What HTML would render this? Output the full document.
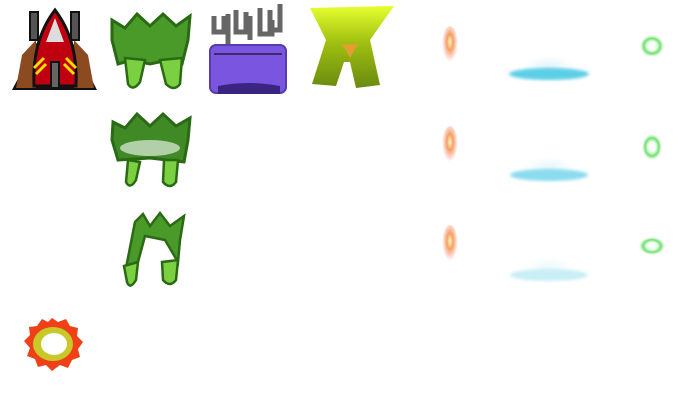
<!DOCTYPE html>
<html><head><meta charset="utf-8"><style>
html,body{margin:0;padding:0;background:#fff;width:700px;height:400px;overflow:hidden}
</style></head><body>
<svg width="700" height="400" viewBox="0 0 700 400" xmlns="http://www.w3.org/2000/svg">
<defs>
<filter id="blur"><feGaussianBlur stdDeviation="1.5"/></filter>
<filter id="blur3"><feGaussianBlur stdDeviation="3"/></filter>
<radialGradient id="fire" cx="50%" cy="40%" r="50%"><stop offset="0" stop-color="#fff6c0"/><stop offset="0.4" stop-color="#f5a060"/><stop offset="1" stop-color="#f8a0a0" stop-opacity="0"/></radialGradient>
<radialGradient id="orb" cx="50%" cy="50%" r="50%"><stop offset="0" stop-color="#fff"/><stop offset="0.4" stop-color="#f0fff0"/><stop offset="0.7" stop-color="#6ee06e"/><stop offset="1" stop-color="#b0f0b0" stop-opacity="0"/></radialGradient>
<radialGradient id="dome" cx="50%" cy="70%" r="50%"><stop offset="0" stop-color="#d4eef8"/><stop offset="1" stop-color="#e0f4fa" stop-opacity="0"/></radialGradient>
<linearGradient id="y4" x1="0" y1="0" x2="0" y2="1"><stop offset="0" stop-color="#e6ff30"/><stop offset="0.45" stop-color="#9fbf10"/><stop offset="1" stop-color="#6a8a10"/></linearGradient>
</defs>

<g>
<polygon points="55,8 97,90 12,90" fill="#111"/>
<polygon points="22,55 36,40 36,88 16,88" fill="#8b4a20"/>
<polygon points="88,55 74,40 74,88 94,88" fill="#8b4a20"/>
<rect x="30" y="12" width="8" height="28" fill="#555" stroke="#111" stroke-width="2"/>
<rect x="71" y="12" width="8" height="28" fill="#555" stroke="#111" stroke-width="2"/>
<path d="M55,10 Q78,40 76,86 L34,86 Q32,40 55,10Z" fill="#c00010" stroke="#111" stroke-width="3"/>
<polygon points="55,18 64,42 46,42" fill="#ddd"/>
<path d="M34,68 L44,58 M36,74 L46,64 M76,68 L66,58 M74,74 L64,64" stroke="#f5e000" stroke-width="3"/>
<rect x="51" y="62" width="8" height="26" fill="#666" stroke="#111" stroke-width="2"/>
</g>

<g>
<path d="M112,20 L125,28 L137,14 L150,26 L163,14 L176,26 L190,16 L188,40 L182,64 L168,60 L150,64 L132,60 L118,64 L112,40Z" fill="#4a9a2a" stroke="#2a6a14" stroke-width="3"/>
<path d="M125,58 L145,60 L140,82 Q133,92 128,84Z" fill="#7ad040" stroke="#2a6a14" stroke-width="2.5"/>
<path d="M160,60 L182,58 L180,84 Q174,92 166,84Z" fill="#7ad040" stroke="#2a6a14" stroke-width="2.5"/>
</g>

<g>
<path d="M214,16 v16 h10 v-16 M228,14 v30 M236,10 v22 h10 v-20 M250,16 v24 M260,8 v26 h12 v-14 M270,10 v20 h10 v-26" stroke="#666" stroke-width="5" fill="none"/>
<rect x="210" y="45" width="76" height="48" rx="6" fill="#7a55e0" stroke="#5a3ab0" stroke-width="2"/>
<line x1="214" y1="54" x2="282" y2="54" stroke="#3a2a70" stroke-width="2"/>
<path d="M218,86 Q248,80 280,86 L280,94 L218,94Z" fill="#3a2580"/>
</g>

<g>
<path d="M310,8 L394,6 L370,40 L380,85 L356,88 L350,62 L344,62 L336,86 L312,84 L326,40Z" fill="url(#y4)"/>
<polygon points="342,44 358,44 350,58" fill="#e0a030"/>
</g>

<g>
<path d="M113,122 L125,128 L137,114 L150,126 L163,114 L176,126 L190,118 L188,140 L184,162 L150,158 L118,160 L112,140Z" fill="#3f8a24" stroke="#2a6a14" stroke-width="3"/>
<ellipse cx="150" cy="148" rx="30" ry="8" fill="#fff" opacity="0.6"/>
<path d="M128,160 L140,162 L136,180 Q130,190 126,182Z" fill="#7ad040" stroke="#2a6a14" stroke-width="2.5"/>
<path d="M164,160 L178,160 L176,182 Q170,190 163,182Z" fill="#7ad040" stroke="#2a6a14" stroke-width="2.5"/>
</g>

<g>
<path d="M135,222 L143,214 L150,226 L160,213 L170,226 L184,216 L180,240 L178,262 L165,240 L145,236 L138,262 L126,268Z" fill="#4a9a2a" stroke="#2a6a14" stroke-width="2.5"/>
<path d="M124,266 L138,262 L136,280 Q130,290 127,282Z" fill="#7ad040" stroke="#2a6a14" stroke-width="2.5"/>
<path d="M162,262 L178,260 L176,280 Q170,288 163,280Z" fill="#7ad040" stroke="#2a6a14" stroke-width="2.5"/>
</g>

<g>
<ellipse cx="450" cy="46" rx="8" ry="20" fill="url(#fire)"/>
<ellipse cx="450" cy="146" rx="8" ry="20" fill="url(#fire)"/>
<ellipse cx="450" cy="245" rx="8" ry="20" fill="url(#fire)"/>
</g>

<g>
<ellipse cx="549" cy="64" rx="28" ry="14" fill="url(#dome)"/>
<ellipse cx="549" cy="74" rx="40" ry="6" fill="#5ccfe6" filter="url(#blur)"/>
<ellipse cx="549" cy="165" rx="26" ry="14" fill="url(#dome)" opacity="0.85"/>
<ellipse cx="549" cy="175" rx="39" ry="6" fill="#8adcee" filter="url(#blur)"/>
<ellipse cx="549" cy="265" rx="26" ry="14" fill="url(#dome)" opacity="0.6"/>
<ellipse cx="549" cy="275" rx="39" ry="6" fill="#c8eef6" filter="url(#blur)"/>
</g>

<g>
<ellipse cx="652" cy="46" rx="12" ry="11" fill="url(#orb)"/>
<ellipse cx="652" cy="147" rx="10" ry="13" fill="url(#orb)"/>
<ellipse cx="652" cy="246" rx="13" ry="9" fill="url(#orb)"/>
</g>

<g>
<path d="M52,318 L58,322 L66,319 L70,326 L78,328 L77,336 L83,342 L78,349 L80,357 L72,360 L68,368 L60,365 L52,371 L46,365 L38,367 L35,359 L27,356 L30,348 L24,341 L30,335 L29,327 L37,326 L42,319 L48,322Z" fill="#f04018"/>
<ellipse cx="53" cy="344" rx="20" ry="17" fill="#c8c828"/>
<ellipse cx="54" cy="344" rx="13" ry="11" fill="#fff"/>
</g>
</svg>
</body></html>
